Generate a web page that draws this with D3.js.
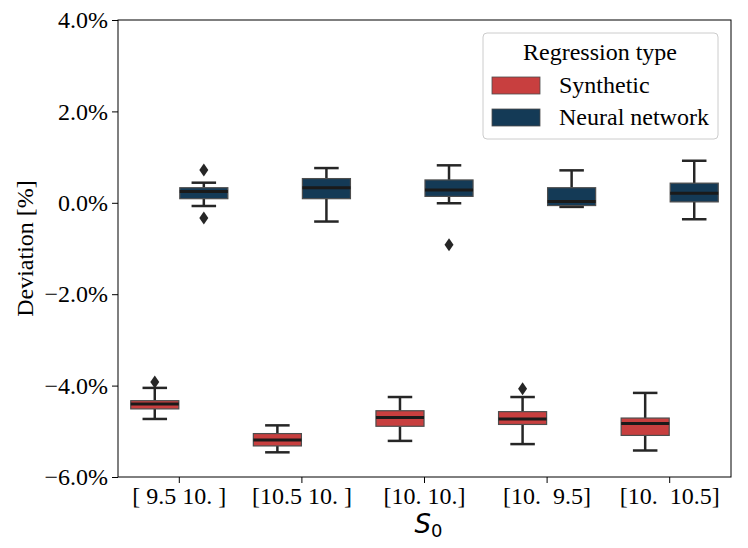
<!DOCTYPE html>
<html>
<head>
<meta charset="utf-8">
<script src="https://cdn.jsdelivr.net/npm/d3@7"></script>
<style>
  body { margin: 0; background: #fff; }
  svg text { font-family: "Liberation Serif", "DejaVu Serif", serif; }
</style>
</head>
<body>
<div class="chart"></div>
<script>
// categories on the x axis
var categories = ["[ 9.5 10. ]", "[10.5 10. ]", "[10. 10.]", "[10.  9.5]", "[10.  10.5]"];
var seriesNames = ["Synthetic", "Neural network"];
var seriesColors = ["#c83f3f", "#143a56"];
var yTicks = [-6, -4, -2, 0, 2, 4];

// box statistics (percent)
var synthLow    = [-4.73, -5.46, -5.21, -5.28, -5.42];
var synthQ1     = [-4.51, -5.32, -4.89, -4.85, -5.09];
var synthMed    = [-4.40, -5.19, -4.70, -4.73, -4.83];
var synthQ3     = [-4.33, -5.05, -4.55, -4.57, -4.71];
var synthHigh   = [-4.05, -4.87, -4.25, -4.25, -4.16];
var synthOut    = [[-3.92], [], [], [-4.07], []];

var nnLow  = [-0.07, -0.41, -0.01, -0.09, -0.36];
var nnQ1   = [0.09, 0.09, 0.14, -0.06, 0.02];
var nnMed  = [0.25, 0.33, 0.28, 0.03, 0.21];
var nnQ3   = [0.33, 0.53, 0.50, 0.33, 0.43];
var nnHigh = [0.44, 0.76, 0.82, 0.71, 0.92];
var nnOut  = [[0.72, -0.33], [], [-0.92], [], []];

var svgWidth = 748;
var svgHeight = 548;
var margin = { top: 20, right: 17, bottom: 71, left: 118 };
var width = svgWidth - margin.left - margin.right;
var height = svgHeight - margin.top - margin.bottom;

var svg = d3.select(".chart").append("svg")
  .attr("width", svgWidth)
  .attr("height", svgHeight);

var chartGroup = svg.append("g")
  .attr("transform", `translate(${margin.left}, ${margin.top})`);

var xScale = d3.scaleBand().domain(categories).range([0, width]);
var hueScale = d3.scaleBand().domain(seriesNames).range([0, xScale.bandwidth() * 0.8]);
var yScale = d3.scaleLinear().domain([-6, 4]).range([height, 0]);

function pct(v) { return (v < 0 ? "\u2212" : "") + Math.abs(v).toFixed(1) + "%"; }

// build the box table
var boxes = [];
categories.forEach(function (c, i) {
  boxes.push({ cat: c, s: seriesNames[0], color: seriesColors[0], lo: synthLow[i], q1: synthQ1[i], med: synthMed[i], q3: synthQ3[i], hi: synthHigh[i], out: synthOut[i] });
  boxes.push({ cat: c, s: seriesNames[1], color: seriesColors[1], lo: nnLow[i], q1: nnQ1[i], med: nnMed[i], q3: nnQ3[i], hi: nnHigh[i], out: nnOut[i] });
});

var lineColor = "#262626";

var boxGroup = chartGroup.selectAll(".box")
  .data(boxes)
  .enter()
  .append("g")
  .attr("transform", d => `translate(${xScale(d.cat) + xScale.bandwidth() * 0.1 + hueScale(d.s)}, 0)`);

var bw = hueScale.bandwidth();
var boxW = bw * 0.98;
var cx = bw / 2;

// whiskers
boxGroup.append("line")
  .attr("x1", cx).attr("x2", cx)
  .attr("y1", d => yScale(d.hi)).attr("y2", d => yScale(d.q3))
  .attr("stroke", lineColor).attr("stroke-width", 2.5);
boxGroup.append("line")
  .attr("x1", cx).attr("x2", cx)
  .attr("y1", d => yScale(d.q1)).attr("y2", d => yScale(d.lo))
  .attr("stroke", lineColor).attr("stroke-width", 2.5);
// caps
boxGroup.append("line")
  .attr("x1", cx - bw / 4).attr("x2", cx + bw / 4)
  .attr("y1", d => yScale(d.hi)).attr("y2", d => yScale(d.hi))
  .attr("stroke", lineColor).attr("stroke-width", 2.5);
boxGroup.append("line")
  .attr("x1", cx - bw / 4).attr("x2", cx + bw / 4)
  .attr("y1", d => yScale(d.lo)).attr("y2", d => yScale(d.lo))
  .attr("stroke", lineColor).attr("stroke-width", 2.5);

// box
boxGroup.append("rect")
  .attr("x", cx - boxW / 2)
  .attr("width", boxW)
  .attr("y", d => yScale(d.q3))
  .attr("height", d => yScale(d.q1) - yScale(d.q3))
  .attr("fill", d => d.color)
  .attr("stroke", "#4d4d4d")
  .attr("stroke-width", 1.2);

// median
boxGroup.append("line")
  .attr("x1", cx - boxW / 2).attr("x2", cx + boxW / 2)
  .attr("y1", d => yScale(d.med)).attr("y2", d => yScale(d.med))
  .attr("stroke", "#1a1a1a").attr("stroke-width", 3);

// outliers
boxGroup.selectAll(".flier")
  .data(d => d.out)
  .enter()
  .append("path")
  .attr("d", "M0,-6.5L4.5,0L0,6.5L-4.5,0Z")
  .attr("transform", v => `translate(${cx}, ${yScale(v)})`)
  .attr("fill", lineColor);

// axes
var leftAxis = d3.axisLeft(yScale).tickValues(yTicks).tickFormat(pct).tickSizeOuter(0).tickSize(6).tickPadding(4);
var bottomAxis = d3.axisBottom(xScale).tickSizeOuter(0).tickSize(6).tickPadding(4);

var yAxis = chartGroup.append("g").call(leftAxis);
yAxis.selectAll("text").style("font-size", "24px").attr("fill", "#000");
yAxis.selectAll("line").attr("stroke", "#000");
yAxis.select(".domain").remove();

var xAxis = chartGroup.append("g")
  .attr("transform", `translate(0, ${height})`)
  .call(bottomAxis);
xAxis.selectAll("text").style("font-size", "24px").attr("fill", "#000").style("white-space", "pre");
xAxis.selectAll("line").attr("stroke", "#000");
xAxis.select(".domain").remove();

// frame
chartGroup.append("rect")
  .attr("width", width).attr("height", height)
  .attr("fill", "none").attr("stroke", "#000").attr("stroke-width", 1);

// axis labels
chartGroup.append("text")
  .attr("transform", "rotate(-90)")
  .attr("x", -height / 2)
  .attr("y", -margin.left + 33)
  .attr("text-anchor", "middle")
  .style("font-size", "24px")
  .text("Deviation [%]");

var xl = chartGroup.append("text")
  .attr("x", width / 2 + 4)
  .attr("y", height + 56)
  .attr("text-anchor", "middle")
  .style("font-family", "DejaVu Sans, sans-serif")
  .style("font-size", "26px");
xl.append("tspan").style("font-style", "italic").style("font-family", "DejaVu Sans, sans-serif").text("S");
xl.append("tspan").attr("dy", 4).style("font-size", "18px").style("font-family", "DejaVu Sans, sans-serif").text("0");

// legend
var legend = chartGroup.append("g").attr("transform", `translate(${365}, ${13})`);
legend.append("rect")
  .attr("width", 235).attr("height", 106).attr("rx", 4)
  .attr("fill", "#fff").attr("fill-opacity", 0.8)
  .attr("stroke", "#cccccc");
legend.append("text")
  .attr("x", 117).attr("y", 27)
  .attr("text-anchor", "middle")
  .style("font-size", "24px")
  .text("Regression type");
var items = legend.selectAll(".item")
  .data(seriesNames)
  .enter()
  .append("g")
  .attr("transform", (d, i) => `translate(9, ${44 + i * 32})`);
items.append("rect")
  .attr("width", 48).attr("height", 17)
  .attr("fill", (d, i) => seriesColors[i])
  .attr("stroke", "#4d4d4d").attr("stroke-width", 0.8);
items.append("text")
  .attr("x", 67).attr("y", 16)
  .style("font-size", "24px")
  .text(d => d);
</script>
</body>
</html>
